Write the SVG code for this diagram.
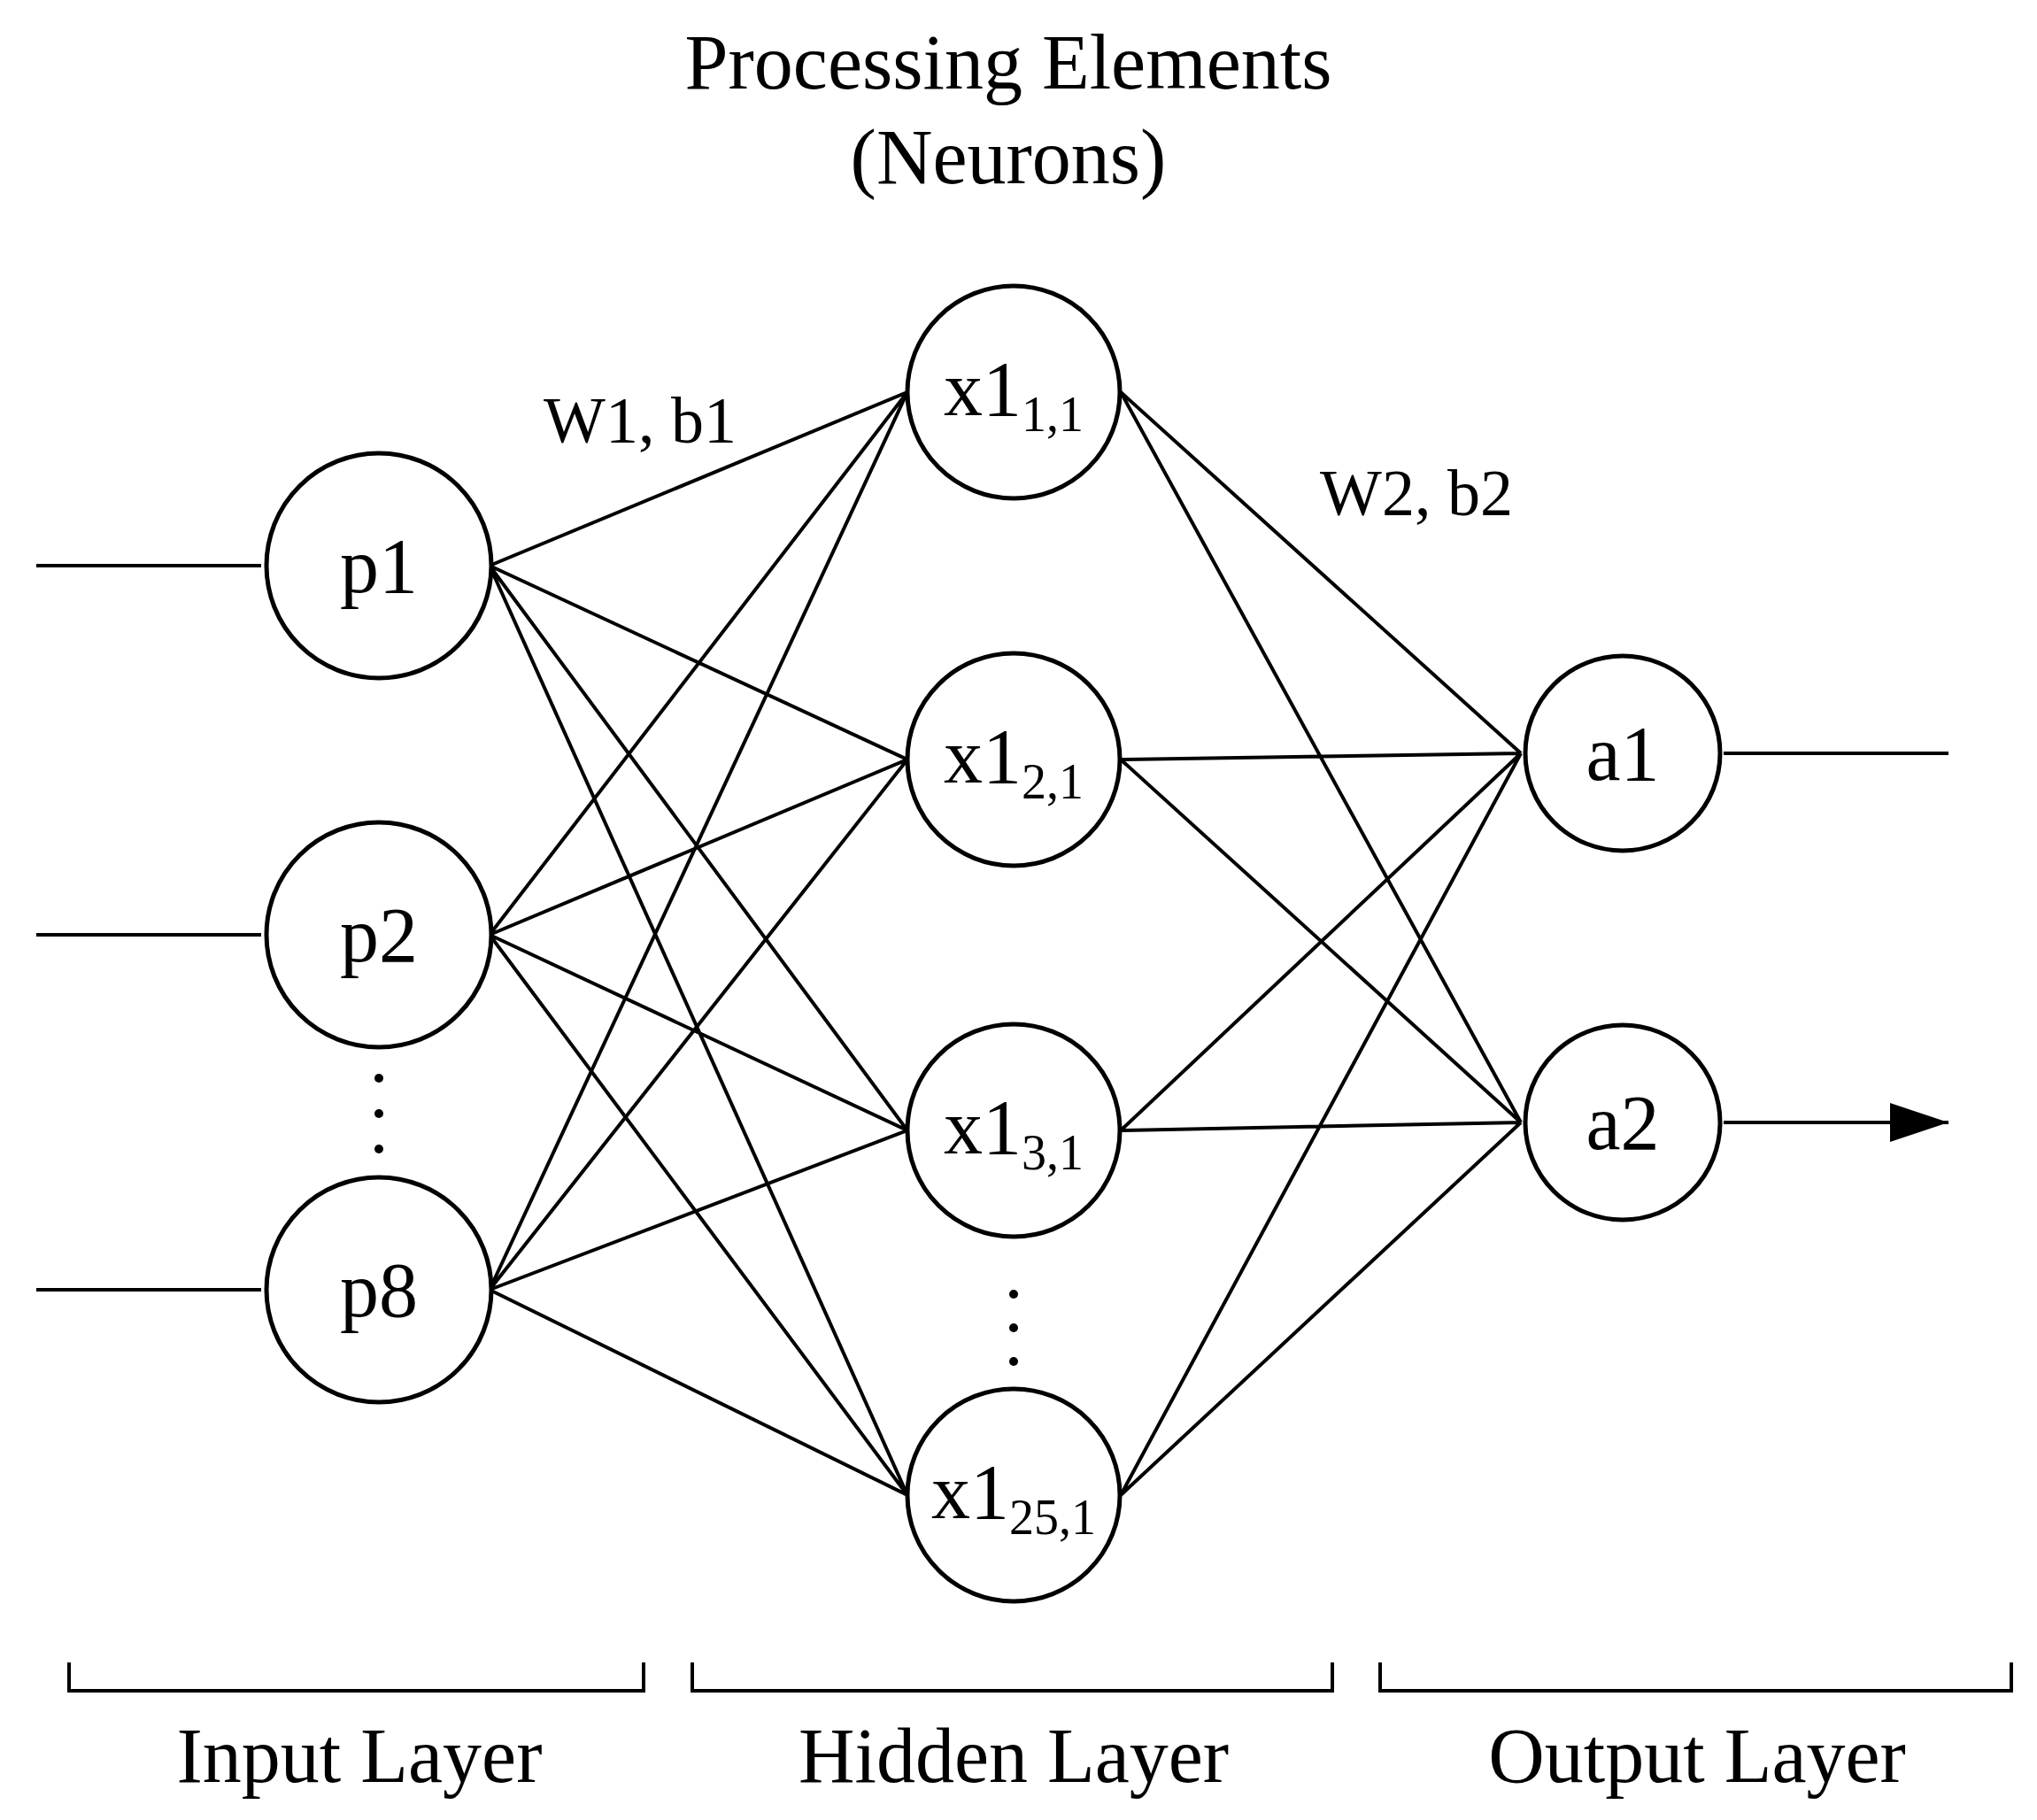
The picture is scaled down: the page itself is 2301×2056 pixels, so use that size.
<svg xmlns="http://www.w3.org/2000/svg" width="2301" height="2056" viewBox="0 0 2301 2056">
<style>
text{font-family:"Liberation Serif","Times New Roman",serif;fill:#000;text-anchor:middle}
.n{fill:#fff;stroke:#000;stroke-width:5}
.l{stroke:#000;stroke-width:4;fill:none}
.t{font-size:88px}
.s{font-size:56px}
</style>
<defs><marker id="a" markerWidth="66" markerHeight="44" refX="66" refY="22" markerUnits="userSpaceOnUse" orient="auto"><path d="M0,0L66,22L0,44z" fill="#000"/></marker></defs>
<rect width="2301" height="2056" fill="#fff"/>
<g id="connectors" class="l">
<path d="M41,639H295M41,1056H295M41,1457H295M1947,851H2201M1947,1268H2201" marker-end="url(#a)"/>
<path d="M553,639L1025,443M553,639L1025,858M553,639L1025,1277M553,639L1025,1689M553,1056L1025,443M553,1056L1025,858M553,1056L1025,1277M553,1056L1025,1689M553,1457L1025,443M553,1457L1025,858M553,1457L1025,1277M553,1457L1025,1689"/>
<path d="M1266,443L1718,851M1266,443L1718,1268M1266,858L1718,851M1266,858L1718,1268M1266,1277L1718,851M1266,1277L1718,1268M1266,1689L1718,851M1266,1689L1718,1268"/>
<path d="M78,1878V1910H727V1878M782,1878V1910H1505V1878M1559,1878V1910H2272V1878"/>
</g>
<g id="p1"><circle class="n" cx="428" cy="639" r="127"/><text class="t" x="428" y="669">p1</text></g>
<g id="p2"><circle class="n" cx="428" cy="1056" r="127"/><text class="t" x="428" y="1086">p2</text></g>
<g id="p8"><circle class="n" cx="428" cy="1457" r="127"/><text class="t" x="428" y="1487">p8</text></g>
<g id="x11"><circle class="n" cx="1145" cy="443" r="120"/><text class="t" x="1145" y="469">x1<tspan class="s" dy="18">1,1</tspan></text></g>
<g id="x21"><circle class="n" cx="1145" cy="858" r="120"/><text class="t" x="1145" y="884">x1<tspan class="s" dy="18">2,1</tspan></text></g>
<g id="x31"><circle class="n" cx="1145" cy="1277" r="120"/><text class="t" x="1145" y="1303">x1<tspan class="s" dy="18">3,1</tspan></text></g>
<g id="x251"><circle class="n" cx="1145" cy="1689" r="120"/><text class="t" x="1145" y="1715">x1<tspan class="s" dy="18">25,1</tspan></text></g>
<g id="a1"><circle class="n" cx="1833" cy="851" r="110"/><text class="t" x="1833" y="881">a1</text></g>
<g id="a2"><circle class="n" cx="1833" cy="1268" r="110"/><text class="t" x="1833" y="1298">a2</text></g>
<g id="dots" fill="#000"><circle cx="428" cy="1218" r="5"/><circle cx="428" cy="1258" r="5"/><circle cx="428" cy="1298" r="5"/><circle cx="1145" cy="1462" r="5"/><circle cx="1145" cy="1500" r="5"/><circle cx="1145" cy="1538" r="5"/></g>
<g id="labels">
<text class="t" x="1139" y="100">Processing Elements</text>
<text class="t" x="1139" y="207">(Neurons)</text>
<text style="font-size:74px" x="723" y="500">W1, b1</text>
<text style="font-size:74px" x="1600" y="582">W2, b2</text>
<text class="t" x="406" y="2013">Input Layer</text>
<text class="t" x="1145" y="2013">Hidden Layer</text>
<text class="t" x="1917" y="2013">Output Layer</text>
</g>
</svg>
